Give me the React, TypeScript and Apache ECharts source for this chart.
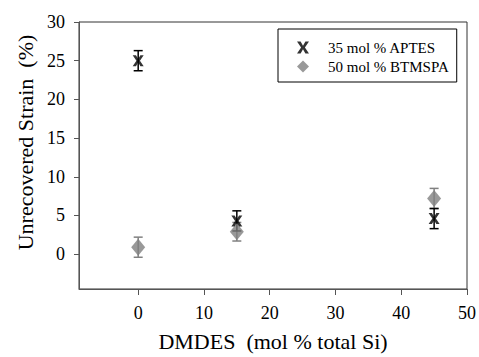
import React, { useEffect, useRef } from "react";
import * as echarts from "echarts";

const xValues = [0, 15, 45];
const aptesValues = [25.0, 4.3, 4.6];
const aptesErrors = [1.3, 1.3, 1.3];
const btmspaValues = [0.9, 2.9, 7.2];
const btmspaErrors = [1.3, 1.2, 1.3];
const xTicks = [0, 10, 20, 30, 40, 50];
const yTicks = [0, 5, 10, 15, 20, 25, 30];
const seriesNames = ["35 mol % APTES", "50 mol % BTMSPA"];

const FONT = "Liberation Serif";
const X_SYMBOL =
  "path://M0,0 L3,0 L5,3.5 L7,0 L10,0 L6.6,5 L10,10 L7,10 L5,6.5 L3,10 L0,10 L3.4,5 Z";

function errorSeries(values: number[], errors: number[], color: string) {
  return {
    type: "custom",
    silent: true,
    data: xValues.map((x, i) => [x, values[i], errors[i]]),
    renderItem: (params: any, api: any) => {
      const x = api.value(0);
      const y = api.value(1);
      const e = api.value(2);
      const top = api.coord([x, y + e]);
      const bot = api.coord([x, y - e]);
      const cap = 4.5;
      const style = { stroke: color, lineWidth: 1.5 };
      return {
        type: "group",
        children: [
          { type: "line", shape: { x1: top[0], y1: top[1], x2: bot[0], y2: bot[1] }, style },
          { type: "line", shape: { x1: top[0] - cap, y1: top[1], x2: top[0] + cap, y2: top[1] }, style },
          { type: "line", shape: { x1: bot[0] - cap, y1: bot[1], x2: bot[0] + cap, y2: bot[1] }, style },
        ],
      };
    },
    z: 1,
  };
}

export default function App() {
  const ref = useRef<HTMLDivElement>(null);
  useEffect(() => {
    if (!ref.current) return;
    const chart = echarts.init(ref.current, null, { renderer: "svg" });
    chart.setOption({
      animation: false,
      backgroundColor: "#fff",
      textStyle: { fontFamily: FONT },
      grid: {
        left: 79,
        right: 11,
        top: 22,
        bottom: 63,
        show: true,
        borderColor: "#333",
        borderWidth: 1,
      },
      legend: {
        data: seriesNames,
        orient: "vertical",
        left: 278,
        top: 29,
        padding: [11, 8, 8, 19],
        itemWidth: 12,
        itemHeight: 12,
        itemGap: 4,
        borderColor: "#000",
        borderWidth: 1,
        textStyle: {
          fontFamily: FONT,
          fontSize: 15,
          color: "#000",
          lineHeight: 14,
          padding: [0, 0, 0, 14],
        },
      },
      xAxis: {
        type: "value",
        min: -9,
        max: 50,
        name: "DMDES  (mol % total Si)",
        nameLocation: "middle",
        nameGap: 41,
        nameTextStyle: { fontFamily: FONT, fontSize: 22, color: "#000" },
        axisLine: { show: true, onZero: false, lineStyle: { color: "#555", width: 1 } },
        axisTick: { show: true, inside: false, length: 6, customValues: xTicks, lineStyle: { color: "#555" } },
        axisLabel: { customValues: xTicks, margin: 15, fontFamily: FONT, fontSize: 18, color: "#000" },
        splitLine: { show: false },
      },
      yAxis: {
        type: "value",
        min: -4.5,
        max: 30,
        name: "Unrecovered Strain  (%)",
        nameLocation: "middle",
        nameGap: 41,
        nameRotate: 90,
        nameTextStyle: { fontFamily: FONT, fontSize: 22, color: "#000", padding: [0, 0, 0, 26] },
        axisLine: { show: true, onZero: false, lineStyle: { color: "#555", width: 1 } },
        axisTick: { show: true, inside: false, length: 5, customValues: yTicks, lineStyle: { color: "#555" } },
        axisLabel: { customValues: yTicks, margin: 14, fontFamily: FONT, fontSize: 18, color: "#000" },
        splitLine: { show: false },
      },
      series: [
        errorSeries(btmspaValues, btmspaErrors, "#808080"),
        {
          name: seriesNames[1],
          type: "scatter",
          symbol: "diamond",
          symbolSize: [14, 17],
          itemStyle: { color: "#808080" },
          data: xValues.map((x, i) => [x, btmspaValues[i]]),
          z: 2,
        },
        errorSeries(aptesValues, aptesErrors, "#000"),
        {
          name: seriesNames[0],
          type: "scatter",
          symbol: X_SYMBOL,
          symbolSize: [11, 11],
          itemStyle: { color: "#000" },
          data: xValues.map((x, i) => [x, aptesValues[i]]),
          z: 4,
        },
      ],
    });
    return () => chart.dispose();
  }, []);
  return (
    <div
      ref={ref}
      style={{ position: "fixed", left: 0, top: 0, width: 479, height: 357 }}
    />
  );
}
